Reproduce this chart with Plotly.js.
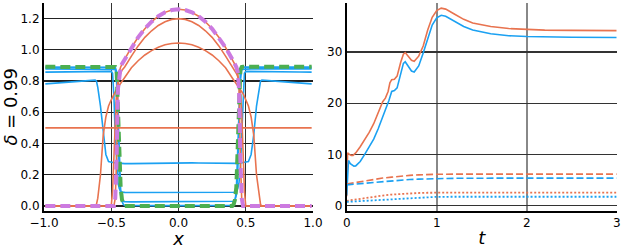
<!DOCTYPE html>
<html>
<head>
<meta charset="utf-8">
<script src="https://cdn.plot.ly/plotly-3.0.1.min.js"></script>
<style>html,body{margin:0;padding:0;background:#fff}#chart{width:623px;height:249px}</style>
</head>
<body>
<div id="chart"></div>
<script>
// ---------- left panel: profiles in x ----------
const xGrid = [-0.99,-0.9,-0.8,-0.7,-0.62,-0.61,-0.6,-0.58,-0.56,-0.54,-0.52,-0.5,-0.49,-0.48,-0.47,-0.46,-0.45,-0.44,-0.43,-0.42,-0.41,-0.4,-0.35,-0.3,-0.25,-0.2,-0.15,-0.1,-0.05,0,
               0.05,0.1,0.15,0.2,0.25,0.3,0.35,0.4,0.41,0.42,0.43,0.44,0.45,0.46,0.47,0.48,0.49,0.5,0.52,0.54,0.56,0.58,0.6,0.61,0.62,0.7,0.8,0.9,0.99];

const blueA = [0.782,0.787,0.793,0.800,0.806,0.800,0.760,0.640,0.460,0.330,0.285,0.279,0.278,0.277,0.276,0.275,0.274,0.273,0.273,0.272,0.272,0.271,0.271,0.272,0.273,0.274,0.275,0.276,0.277,0.277,
               0.277,0.276,0.275,0.274,0.273,0.272,0.271,0.271,0.272,0.272,0.273,0.273,0.274,0.275,0.276,0.277,0.278,0.279,0.285,0.330,0.460,0.640,0.760,0.800,0.806,0.800,0.793,0.787,0.782];
const blueB = [0.857,0.858,0.859,0.860,0.861,0.861,0.861,0.862,0.862,0.862,0.862,0.862,0.850,0.700,0.450,0.250,0.150,0.110,0.095,0.090,0.088,0.087,0.086,0.086,0.086,0.085,0.085,0.085,0.085,0.085,
               0.085,0.085,0.085,0.085,0.086,0.086,0.086,0.087,0.088,0.090,0.095,0.110,0.150,0.250,0.450,0.700,0.850,0.862,0.862,0.862,0.862,0.862,0.861,0.861,0.861,0.860,0.859,0.858,0.857];
const blueC = [0.878,0.878,0.878,0.878,0.878,0.878,0.878,0.878,0.878,0.878,0.878,0.878,0.877,0.876,0.875,0.800,0.500,0.200,0.070,0.040,0.030,0.027,0.026,0.026,0.026,0.026,0.026,0.026,0.026,0.026,
               0.026,0.026,0.026,0.026,0.026,0.026,0.026,0.027,0.030,0.040,0.070,0.200,0.500,0.800,0.875,0.876,0.877,0.878,0.878,0.878,0.878,0.878,0.878,0.878,0.878,0.878,0.878,0.878,0.878];
const blueD = [0.889,0.889,0.889,0.889,0.889,0.889,0.889,0.889,0.889,0.889,0.889,0.889,0.889,0.889,0.888,0.860,0.600,0.300,0.100,0.030,0.010,0.003,0.002,0.002,0.002,0.002,0.002,0.002,0.002,0.002,
               0.002,0.002,0.002,0.002,0.002,0.002,0.002,0.003,0.010,0.030,0.100,0.300,0.600,0.860,0.888,0.889,0.889,0.889,0.889,0.889,0.889,0.889,0.889,0.889,0.889,0.889,0.889,0.889,0.889];
const greenRef = [0.891,0.891,0.891,0.891,0.891,0.891,0.891,0.891,0.891,0.891,0.891,0.891,0.891,0.891,0.890,0.870,0.620,0.320,0.120,0.040,0.010,0.000,0.000,0.000,0.000,0.000,0.000,0.000,0.000,0.000,
               0.000,0.000,0.000,0.000,0.000,0.000,0.000,0.000,0.010,0.040,0.120,0.320,0.620,0.870,0.890,0.891,0.891,0.891,0.891,0.891,0.891,0.891,0.891,0.891,0.891,0.891,0.891,0.891,0.891];

const orangeInitX = [-0.99, 0.99];
const orangeInit = [0.5, 0.5];
const orange1 = [0,0,0,0,0,0.010,0.050,0.200,0.450,0.570,0.640,0.680,0.700,0.720,0.735,0.748,0.760,0.772,0.784,0.796,0.808,0.820,0.885,0.930,0.967,0.995,1.017,1.032,1.041,1.044,
                 1.041,1.032,1.017,0.995,0.967,0.930,0.885,0.820,0.808,0.796,0.784,0.772,0.760,0.748,0.735,0.720,0.700,0.680,0.640,0.570,0.450,0.200,0.050,0.010,0,0,0,0,0];
const orange2 = [0,0,0,0,0,0,0,0,0,0,0,0,0.100,0.350,0.600,0.740,0.800,0.830,0.850,0.870,0.880,0.890,0.960,1.025,1.080,1.122,1.156,1.180,1.195,1.200,
                 1.195,1.180,1.156,1.122,1.080,1.025,0.960,0.890,0.880,0.870,0.850,0.830,0.800,0.740,0.600,0.350,0.100,0,0,0,0,0,0,0,0,0,0,0,0];
const orange3 = [0,0,0,0,0,0,0,0,0,0,0,0,0,0,0.050,0.300,0.750,0.860,0.890,0.910,0.925,0.940,1.015,1.080,1.135,1.180,1.215,1.240,1.255,1.260,
                 1.255,1.240,1.215,1.180,1.135,1.080,1.015,0.940,0.925,0.910,0.890,0.860,0.750,0.300,0.050,0,0,0,0,0,0,0,0,0,0,0,0,0,0];
const purpleRef = orange3.slice();

// ---------- right panel: quantities in t ----------
const tOrange = [0,0.01,0.03,0.05,0.07,0.1,0.15,0.2,0.25,0.3,0.35,0.4,0.43,0.46,0.48,0.5,0.53,0.56,0.6,0.63,0.65,0.68,0.72,0.75,0.8,0.85,0.9,0.95,1.0,1.05,1.1,1.2,1.3,1.4,1.5,1.6,1.8,2.0,2.2,2.5,3.0];
const orangeSolid = [1.8,10.3,10.0,9.8,9.8,10.3,11.5,12.8,14.3,16.0,18.3,20.3,21.0,22.3,24.0,24.6,24.7,25.3,28.0,29.6,29.9,29.3,28.4,28.2,29.2,31.2,34.3,36.8,38.1,38.6,38.4,37.4,36.4,35.7,35.3,35.0,34.6,34.4,34.3,34.25,34.2];
const tBlue = [0,0.02,0.04,0.06,0.08,0.1,0.15,0.2,0.25,0.3,0.35,0.4,0.44,0.47,0.5,0.53,0.56,0.6,0.63,0.65,0.68,0.72,0.75,0.8,0.85,0.9,0.95,1.0,1.05,1.1,1.2,1.3,1.4,1.5,1.6,1.8,2.0,2.5,3.0];
const blueSolid = [2.0,8.8,8.2,7.85,7.7,7.75,8.6,10.0,11.4,13.0,15.0,17.2,19.3,20.6,22.3,22.5,23.0,26.0,27.8,28.1,27.4,26.3,26.1,27.3,29.8,32.7,35.3,36.7,37.2,37.0,36.0,35.0,34.3,33.9,33.6,33.2,33.05,32.9,32.86];
const tSmooth = [0,0.1,0.2,0.3,0.4,0.5,0.6,0.7,0.8,0.9,1.0,1.2,1.5,2.0,2.5,3.0];
const orangeDashed = [4.2,4.5,4.85,5.15,5.38,5.55,5.75,5.9,6.0,6.08,6.12,6.14,6.14,6.14,6.14,6.14];
const blueDashed   = [4.05,4.15,4.35,4.52,4.68,4.83,4.97,5.08,5.17,5.23,5.28,5.32,5.35,5.36,5.36,5.36];
const orangeDotted = [0.92,1.2,1.5,1.75,1.95,2.15,2.28,2.38,2.45,2.5,2.53,2.54,2.54,2.54,2.54,2.54];
const blueDotted   = [0.72,0.82,0.95,1.08,1.2,1.32,1.42,1.52,1.6,1.66,1.7,1.72,1.72,1.72,1.72,1.72];

const ORANGE = '#E8734F', BLUE = '#1BA1F2', GREEN = '#4CAF50', PURPLE = '#CC7AE0';
const thin = (c, d, w) => ({color: c, width: w || 1.6, dash: d || 'solid'});

const traces = [
  {x: xGrid, y: blueA, line: thin(BLUE)},
  {x: xGrid, y: blueB, line: thin(BLUE)},
  {x: xGrid, y: blueC, line: thin(BLUE)},
  {x: xGrid, y: blueD, line: thin(BLUE)},
  {x: orangeInitX, y: orangeInit, line: thin(ORANGE)},
  {x: xGrid, y: orange1, line: thin(ORANGE)},
  {x: xGrid, y: orange2, line: thin(ORANGE)},
  {x: xGrid, y: orange3, line: thin(ORANGE)},
  {x: xGrid, y: greenRef, line: {color: GREEN, width: 4, dash: '10px,5px'}},
  {x: xGrid, y: purpleRef, line: {color: PURPLE, width: 4, dash: '10px,5px'}},
  {x: tOrange, y: orangeSolid, xaxis: 'x2', yaxis: 'y2', line: thin(ORANGE)},
  {x: tBlue, y: blueSolid, xaxis: 'x2', yaxis: 'y2', line: thin(BLUE)},
  {x: tSmooth, y: orangeDashed, xaxis: 'x2', yaxis: 'y2', line: thin(ORANGE, '7px,3px')},
  {x: tSmooth, y: blueDashed, xaxis: 'x2', yaxis: 'y2', line: thin(BLUE, '7px,3px')},
  {x: tSmooth, y: orangeDotted, xaxis: 'x2', yaxis: 'y2', line: thin(ORANGE, '2px,2px', 1.8)},
  {x: tSmooth, y: blueDotted, xaxis: 'x2', yaxis: 'y2', line: thin(BLUE, '2px,2px', 1.8)}
].map(t => Object.assign({type: 'scatter', mode: 'lines', showlegend: false, hoverinfo: 'skip'}, t));

const tickFont = {family: 'DejaVu Sans', size: 12, color: '#000'};
const titleFont = {family: 'DejaVu Sans', size: 18, color: '#000'};
const ydom = [0.154, 0.988];
const layout = {
  width: 623, height: 249,
  margin: {l: 0, r: 0, t: 0, b: 0},
  paper_bgcolor: '#fff', plot_bgcolor: '#fff',
  font: tickFont,
  xaxis: {domain: [0.0706, 0.5024], range: [-1, 1], tickvals: [-1, -0.5, 0, 0.5, 1], tickformat: '.1f',
          showgrid: true, gridcolor: '#333', gridwidth: 1.4, zeroline: false,
          showline: true, linecolor: '#000', linewidth: 2, ticks: '', tickfont: tickFont,
          title: {text: '<i>x</i>', font: titleFont, standoff: 2}},
  yaxis: {domain: ydom, range: [-0.03, 1.3], tickvals: [0, 0.2, 0.4, 0.6, 0.8, 1.0, 1.2], tickformat: '.1f',
          showgrid: true, gridcolor: '#222', gridwidth: 1.2, zeroline: false,
          showline: true, linecolor: '#000', linewidth: 2, ticks: '', tickfont: tickFont,
          title: {text: '<i>δ</i> = 0.99', font: titleFont, standoff: 4}},
  xaxis2: {domain: [0.5565, 0.9899], range: [0, 3], tickvals: [0, 1, 2, 3],
          showgrid: true, gridcolor: '#888', gridwidth: 2, zeroline: false,
          showline: true, linecolor: '#000', linewidth: 2, ticks: '', tickfont: tickFont, anchor: 'y2',
          title: {text: '<i>t</i>', font: titleFont, standoff: 2}},
  yaxis2: {domain: ydom, range: [-1, 39.6], tickvals: [0, 10, 20, 30],
          showgrid: true, gridcolor: '#333', gridwidth: 1.3, zeroline: false,
          showline: true, linecolor: '#000', linewidth: 2, ticks: '', tickfont: tickFont, anchor: 'x2'}
};

Plotly.newPlot('chart', traces, layout, {staticPlot: true, displayModeBar: false});
</script>
</body>
</html>
